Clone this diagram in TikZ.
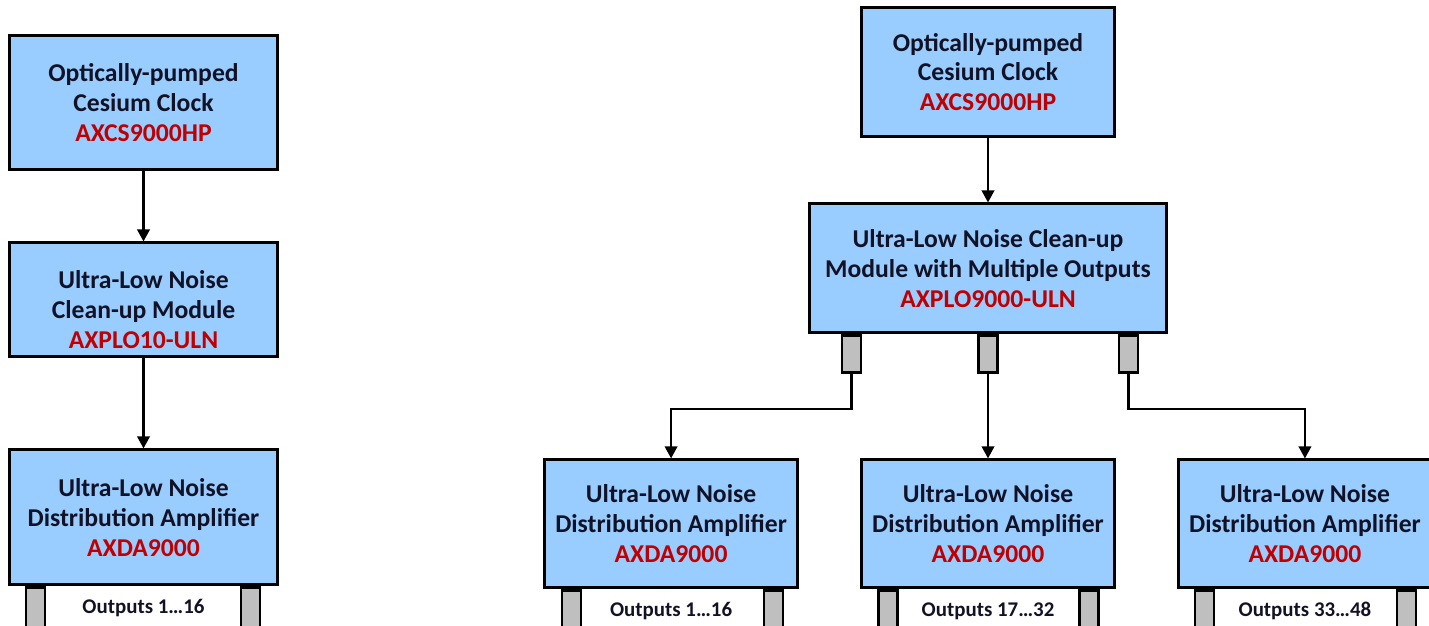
\documentclass[tikz,border=0pt]{standalone}
\usepackage{fontspec}
\setmainfont{Carlito}
\usetikzlibrary{positioning,arrows.meta}

\definecolor{boxblue}{HTML}{99CCFF}
\definecolor{partred}{HTML}{C00000}
\definecolor{stubgray}{HTML}{BFBFBF}
\definecolor{inkdark}{HTML}{121226}

\begin{document}
\begin{tikzpicture}[x=0.02cm,y=-0.02cm,
  module/.style={draw=black,line width=1.7pt,fill=boxblue,align=center,inner sep=0pt,
    text=inkdark,font=\fontsize{14.6}{17}\selectfont\bfseries},
  port/.style={draw=black,line width=1.3pt,fill=stubgray,minimum width=0.38cm,
    minimum height=0.74cm,inner sep=0pt,anchor=north},
  outlbl/.style={font=\fontsize{11.9}{13}\selectfont\bfseries,text=inkdark},
  wire/.style={line width=1.2pt,-{Triangle[length=0.24cm,width=0.25cm]}}]

\useasboundingbox (0,0) rectangle (1429,625);
\clip (0,0) rectangle (1429,625);

% define nodes

% single chain

\node[module,minimum width=5.38cm,minimum height=2.7cm] (clkA) at (143.5,102.5)
  {Optically-pumped\\Cesium Clock\\\textcolor{partred}{AXCS9000HP}};
\node[module,below=1.40cm of clkA,minimum width=5.38cm,minimum height=2.28cm] (pllA)
  {\rule{0pt}{21.5pt}Ultra-Low Noise\\Clean-up Module\\\textcolor{partred}{AXPLO10-ULN}};
\node[module,below=1.80cm of pllA,minimum width=5.38cm,minimum height=2.7cm] (daA)
  {Ultra-Low Noise\\Distribution Amplifier\\\textcolor{partred}{AXDA9000}};

% multi output tree

\node[module,minimum width=5.08cm,minimum height=2.6cm] (clkB) at (988,72)
  {Optically-pumped\\Cesium Clock\\\textcolor{partred}{AXCS9000HP}};
\node[module,below=1.28cm of clkB,minimum width=7.14cm,minimum height=2.58cm] (pllB)
  {Ultra-Low Noise Clean-up\\Module with Multiple Outputs\\\textcolor{partred}{AXPLO9000-ULN}};
\node[module,below=2.48cm of pllB,minimum width=5.06cm,minimum height=2.56cm] (daB2)
  {Ultra-Low Noise\\Distribution Amplifier\\\textcolor{partred}{AXDA9000}};
\node[module,left=1.22cm of daB2,minimum width=5.06cm,minimum height=2.56cm] (daB1)
  {Ultra-Low Noise\\Distribution Amplifier\\\textcolor{partred}{AXDA9000}};
\node[module,right=1.22cm of daB2,minimum width=5.06cm,minimum height=2.56cm] (daB3)
  {Ultra-Low Noise\\Distribution Amplifier\\\textcolor{partred}{AXDA9000}};

% ports

\node[port,xshift=-2.73cm] (pL) at (pllB.south) {};
\node[port] (pM) at (pllB.south) {};
\node[port,xshift=2.81cm] (pR) at (pllB.south) {};

\node[port,minimum height=1cm,xshift=0.56cm] (aL) at (daA.south west) {};
\node[port,minimum height=1cm,xshift=-0.58cm] (aR) at (daA.south east) {};
\node[port,minimum height=1cm,xshift=0.57cm] (b1L) at (daB1.south west) {};
\node[port,minimum height=1cm,xshift=-0.51cm] (b1R) at (daB1.south east) {};
\node[port,minimum height=1cm,xshift=0.56cm] (b2L) at (daB2.south west) {};
\node[port,minimum height=1cm,xshift=-0.54cm] (b2R) at (daB2.south east) {};
\node[port,minimum height=1cm,xshift=0.55cm] (b3L) at (daB3.south west) {};
\node[port,minimum height=1cm,xshift=-0.53cm] (b3R) at (daB3.south east) {};

% output labels

\node[outlbl,yshift=-0.44cm] (oA) at (daA.south) {Outputs 1…16};
\node[outlbl,yshift=-0.44cm] (oB1) at (daB1.south) {Outputs 1…16};
\node[outlbl,yshift=-0.44cm] (oB2) at (daB2.south) {Outputs 17…32};
\node[outlbl,yshift=-0.44cm] (oB3) at (daB3.south) {Outputs 33…48};

% edges

\draw[wire] (clkA) -- (pllA);
\draw[wire] (pllA) -- (daA);
\draw[wire] (clkB) -- (pllB);
\draw[wire] (pL.south) -- ++(0,-0.7cm) -| (daB1.north);
\draw[wire] (pM.south) -- (pM.south |- daB2.north);
\draw[wire] (pR.south) -- ++(0,-0.7cm) -| (daB3.north);

\end{tikzpicture}
\end{document}
